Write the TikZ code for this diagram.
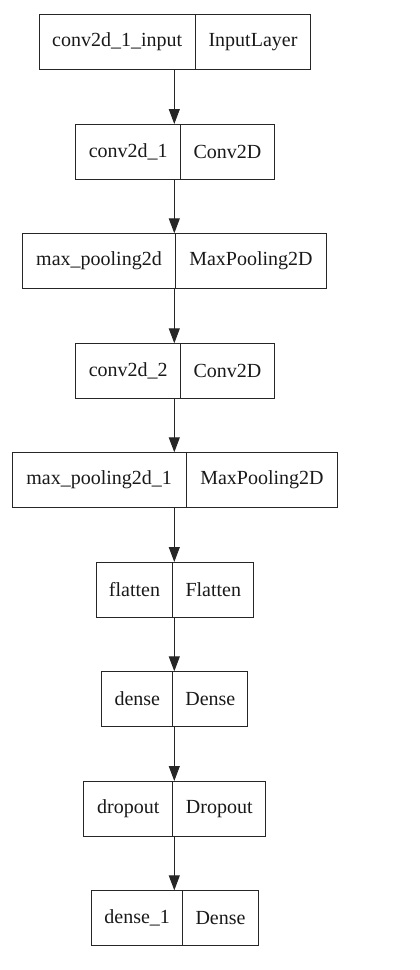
\documentclass[tikz,border=0pt]{standalone}
\usepackage{fontspec}
\setmainfont{Liberation Serif}
\usetikzlibrary{arrows.meta}
\begin{document}
\begin{tikzpicture}[x=1pt,y=-1pt,
  cell/.style={draw=black!85, line width=1pt, minimum height=54.5pt, inner sep=0pt,
    anchor=north west, font=\fontsize{20}{24}\selectfont, text=black!90},
  arr/.style={draw=black!85, line width=1pt, -{Triangle[length=15pt,width=11pt]}}]
\useasboundingbox (0,0) rectangle (420,970);
\coordinate (ax) at (174.3,0);
% layers
\node[cell, minimum width=156pt]   (b1l) at (38.7,14.3)  {conv2d\_1\_input};
\node[cell, minimum width=115.6pt] (b1r) at (194.7,14.3) {InputLayer};
\node[cell, minimum width=105pt]   (b2l) at (75.3,124)   {conv2d\_1};
\node[cell, minimum width=93.4pt]  (b2r) at (180.3,124)  {Conv2D};
\node[cell, minimum width=152.4pt] (b3l) at (22.3,233.3) {max\_pooling2d};
\node[cell, minimum width=151.6pt] (b3r) at (174.7,233.3){MaxPooling2D};
\node[cell, minimum width=105pt]   (b4l) at (75.3,343.3) {conv2d\_2};
\node[cell, minimum width=93.4pt]  (b4r) at (180.3,343.3){Conv2D};
\node[cell, minimum width=174pt]   (b5l) at (11.7,452.3) {max\_pooling2d\_1};
\node[cell, minimum width=151.6pt] (b5r) at (185.7,452.3){MaxPooling2D};
\node[cell, minimum width=76.6pt]  (b6l) at (95.7,562)   {flatten};
\node[cell, minimum width=81pt]    (b6r) at (172.3,562)  {Flatten};
\node[cell, minimum width=71pt]    (b7l) at (101.3,671.3){dense};
\node[cell, minimum width=75pt]    (b7r) at (172.3,671.3){Dense};
\node[cell, minimum width=89pt]    (b8l) at (83.3,781)   {dropout};
\node[cell, minimum width=93pt]    (b8r) at (172.3,781)  {Dropout};
\node[cell, minimum width=91.3pt]  (b9l) at (91,890.3)   {dense\_1};
\node[cell, minimum width=75.4pt]  (b9r) at (182.3,890.3){Dense};
% connectors
\draw[arr] (b1l.south -| ax) -- (b2l.north -| ax);
\draw[arr] (b2l.south -| ax) -- (b3l.north -| ax);
\draw[arr] (b3l.south -| ax) -- (b4l.north -| ax);
\draw[arr] (b4l.south -| ax) -- (b5l.north -| ax);
\draw[arr] (b5l.south -| ax) -- (b6l.north -| ax);
\draw[arr] (b6l.south -| ax) -- (b7l.north -| ax);
\draw[arr] (b7l.south -| ax) -- (b8l.north -| ax);
\draw[arr] (b8l.south -| ax) -- (b9l.north -| ax);
\end{tikzpicture}
\end{document}
